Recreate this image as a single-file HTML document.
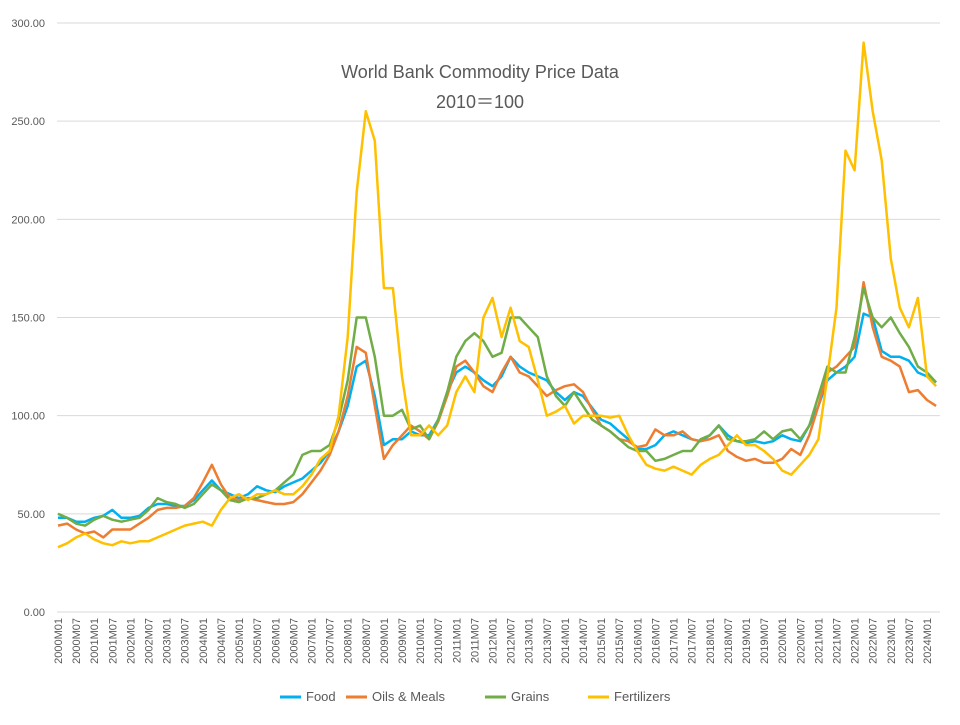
<!DOCTYPE html>
<html><head><meta charset="utf-8"><style>
body{margin:0;background:#fff;}
svg text{font-family:"Liberation Sans","Noto Sans CJK JP",sans-serif;fill:#595959;}
</style></head><body>
<svg id="chart" width="960" height="720" viewBox="0 0 960 720" xmlns="http://www.w3.org/2000/svg">
<text x="480" y="78" text-anchor="middle" font-size="18">World Bank Commodity Price Data</text>
<text x="480" y="108" text-anchor="middle" font-size="18">2010＝100</text>
<g id="grid"></g>
<g id="yaxis"></g>
<g id="xaxis"></g>
<g id="series"></g>
<g id="legend"></g>
</svg>
<script>
// quarterly samples starting 2000M01 (every 3 months)
const food=[48,48,46,46,48,49,52,48,48,49,53,55,55,54,54,57,62,67,62,60,58,60,64,62,61,64,66,68,72,76,82,92,105,125,128,110,85,88,88,92,90,90,98,112,122,125,122,118,115,120,130,125,122,120,118,112,108,112,110,104,98,96,92,88,83,83,85,90,92,90,88,87,90,95,90,87,86,87,86,87,90,88,87,95,105,118,122,125,130,152,150,133,130,130,128,122,120,117];
const oils=[44,45,42,40,41,38,42,42,42,45,48,52,53,53,54,58,66,75,65,58,57,58,57,56,55,55,56,60,66,72,80,92,110,135,132,105,78,85,90,95,92,88,97,110,125,128,122,115,112,122,130,122,120,115,110,113,115,116,112,103,95,92,88,87,84,85,93,90,90,92,88,87,88,90,82,79,77,78,76,76,78,83,80,90,105,122,125,130,135,168,145,130,128,125,112,113,108,105];
const grains=[50,48,45,44,47,49,47,46,47,48,52,58,56,55,53,55,60,65,62,57,56,58,58,60,62,66,70,80,82,82,85,98,118,150,150,130,100,100,103,93,95,88,98,112,130,138,142,138,130,132,150,150,145,140,120,110,105,112,105,98,95,92,88,84,82,82,77,78,80,82,82,88,90,95,88,87,87,88,92,88,92,93,88,95,110,125,122,122,140,165,150,145,150,142,135,125,122,117];
const fert=[33,35,38,40,37,35,34,36,35,36,36,38,40,42,44,45,46,44,52,58,60,57,60,60,62,60,60,64,70,78,82,100,140,214,255,240,165,165,120,90,90,95,90,95,112,120,112,150,160,140,155,138,135,118,100,102,105,96,100,100,100,99,100,90,82,75,73,72,74,72,70,75,78,80,85,90,85,85,82,78,72,70,75,80,88,120,155,235,225,290,255,230,180,155,145,160,120,115];
const yTicks=["0.00","50.00","100.00","150.00","200.00","250.00","300.00"];
const seriesNames=["Food","Oils & Meals","Grains","Fertilizers"];
const colors=["#00b0f0","#ed7d31","#70ad47","#ffc000"];
const NS="http://www.w3.org/2000/svg";
const X0=58,PXM=869/288,Y0=612,PXV=589/300;
const x=m=>X0+m*PXM, y=v=>Y0-v*PXV;
function mk(t,a,p){const e=document.createElementNS(NS,t);for(const k in a)e.setAttribute(k,a[k]);p.appendChild(e);return e;}
const grid=document.getElementById('grid'),ya=document.getElementById('yaxis'),xa=document.getElementById('xaxis');
yTicks.forEach(t=>{const v=parseFloat(t);
 const l=mk('line',{x1:57,x2:940,y1:y(v),y2:y(v),stroke:'#d9d9d9','stroke-width':1},grid);
 
 const tx=mk('text',{x:45,y:y(v)+4,'text-anchor':'end','font-size':11},ya);tx.textContent=t;
 
});
for(let m=0;m<=288;m+=6){const yr=2000+Math.floor(m/12),mo=(m%12)?'07':'01';
 const tx=mk('text',{x:0,y:0,'text-anchor':'end','font-size':11,transform:`translate(${x(m)+4},618) rotate(-90)`},xa);
 tx.textContent=yr+'M'+mo;
 
}
const sg=document.getElementById('series');
[food,oils,grains,fert].forEach((d,i)=>{
 const p=mk('polyline',{points:d.map((v,j)=>x(j*3).toFixed(1)+','+y(v).toFixed(1)).join(' '),fill:'none',stroke:colors[i],'stroke-width':2.5,'stroke-linejoin':'round'},sg);
 
 
});
const lg=document.getElementById('legend');
const lx=[280,346,485,588];
seriesNames.forEach((n,i)=>{
 const g=mk('g',{},lg);
 
 mk('line',{x1:lx[i],x2:lx[i]+21,y1:697,y2:697,stroke:colors[i],'stroke-width':3},g);
 const t=mk('text',{x:lx[i]+26,y:701,'font-size':13},g);t.textContent=n;
});
</script>
</body></html>
